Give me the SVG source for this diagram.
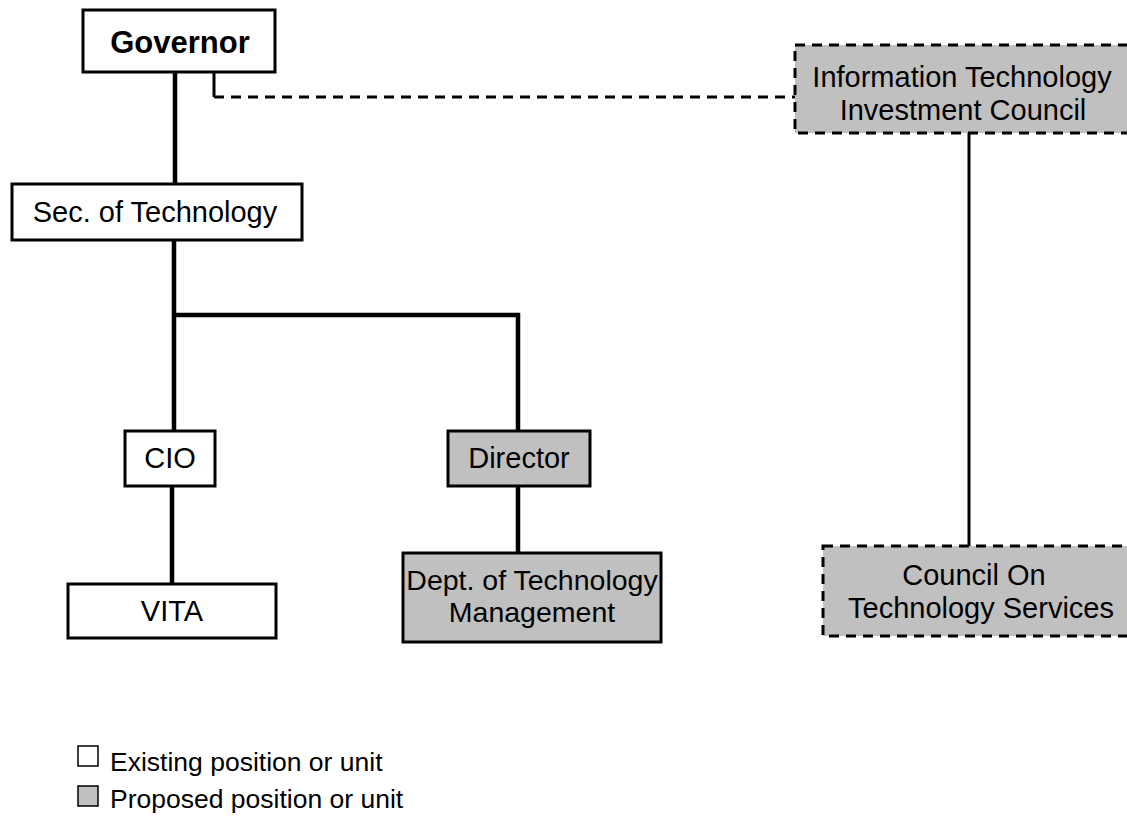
<svg xmlns="http://www.w3.org/2000/svg" width="1127" height="816" viewBox="0 0 1127 816">
<style>
text{font-family:"Liberation Sans",Arial,sans-serif;fill:#000}
.t{font-size:29px;text-anchor:middle}
.b{font-size:31px;font-weight:bold;text-anchor:middle}
.lg{font-size:26.5px}
.ex{fill:#fff;stroke:#000;stroke-width:3}
.pr{fill:#c0c0c0;stroke:#000;stroke-width:3}
.pd{fill:#c0c0c0;stroke:#000;stroke-width:3;stroke-dasharray:10 7}
.ln{fill:none;stroke:#000;stroke-width:4.5}
.thin{fill:none;stroke:#000;stroke-width:3}
.dash{fill:none;stroke:#000;stroke-width:3;stroke-dasharray:10 7}
</style>
<rect width="1127" height="816" fill="#fff"/>
<g id="connectors">
<line class="ln" x1="175" y1="72" x2="175" y2="184"/>
<line class="ln" x1="174" y1="240" x2="174" y2="431"/>
<polyline class="ln" points="174,315 518,315 518,431"/>
<line class="ln" x1="172" y1="486" x2="172" y2="584"/>
<line class="ln" x1="518" y1="486" x2="518" y2="553"/>
<line class="thin" x1="214" y1="72" x2="214" y2="97"/>
<line class="dash" x1="214" y1="97" x2="795" y2="97"/>
<line class="thin" x1="969" y1="133" x2="969" y2="546"/>
</g>
<g id="governor">
<rect class="ex" x="83" y="10" width="192" height="62"/>
<text class="b" x="180" y="53">Governor</text>
</g>
<g id="sec-tech">
<rect class="ex" x="12" y="184" width="290" height="56"/>
<text class="t" x="155" y="222">Sec. of Technology</text>
</g>
<g id="itic">
<rect class="pd" x="795" y="45" width="345" height="88"/>
<text class="t" x="962" y="87">Information Technology</text>
<text class="t" x="963" y="120">Investment Council</text>
</g>
<g id="cio">
<rect class="ex" x="125" y="431" width="90" height="55"/>
<text class="t" x="170" y="468">CIO</text>
</g>
<g id="director">
<rect class="pr" x="448" y="431" width="142" height="55"/>
<text class="t" x="519" y="468">Director</text>
</g>
<g id="vita">
<rect class="ex" x="68" y="584" width="208" height="54"/>
<text class="t" x="172" y="621">VITA</text>
</g>
<g id="dept">
<rect class="pr" x="403" y="553" width="258" height="89"/>
<text class="t" x="532" y="590" style="font-size:28.5px">Dept. of Technology</text>
<text class="t" x="532" y="622" style="font-size:28.5px">Management</text>
</g>
<g id="cots">
<rect class="pd" x="823" y="546" width="320" height="90"/>
<text class="t" x="974" y="585">Council On</text>
<text class="t" x="981" y="618">Technology Services</text>
</g>
<g id="legend">
<rect class="ex" x="78" y="746" width="20" height="20" style="stroke-width:1.5"/>
<text class="lg" x="110" y="771">Existing position or unit</text>
<rect class="pr" x="78" y="786" width="20" height="20" style="stroke-width:1.5"/>
<text class="lg" x="110" y="808">Proposed position or unit</text>
</g>
</svg>
